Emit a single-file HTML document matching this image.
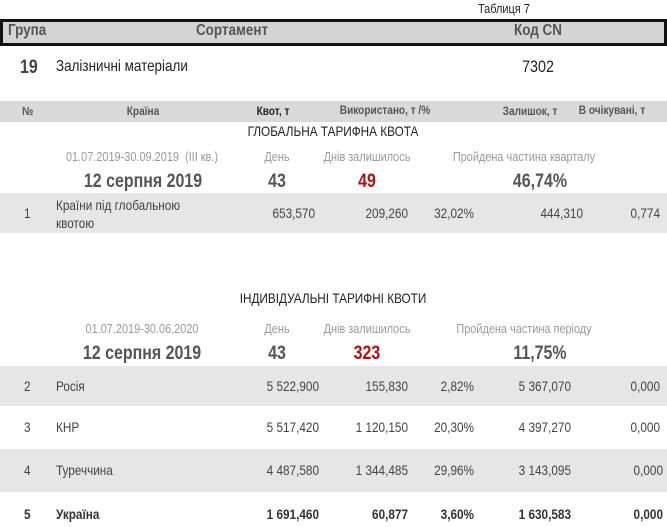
<!DOCTYPE html>
<html><head><meta charset="utf-8"><style>
html,body{margin:0;padding:0;background:#fff;}
body{width:667px;height:527px;position:relative;overflow:hidden;font-family:"Liberation Sans Narrow","Liberation Sans",sans-serif;color:#333;}
.a{position:absolute;white-space:nowrap;line-height:1;transform-origin:0 50%;transform:scaleX(.84);}
.c{transform-origin:50% 50%;transform:translateX(-50%) scaleX(.84);}
.r{transform-origin:100% 50%;transform:translateX(-100%) scaleX(.84);}
.band{position:absolute;left:0;width:667px;}
.g{color:#999;font-size:13px;}
.big{font-size:19px;font-weight:bold;color:#555;}
.v{font-size:14px;color:#444;}
.b{font-weight:bold;color:#333;}
</style></head><body>
<div class="a" style="left:478px;top:2px;font-size:13px;color:#222;">Таблиця 7</div>
<div class="band" style="top:19px;height:21px;background:#d4d4d4;border:3px solid #111;width:661px;"></div>
<div class="a" style="left:8px;top:23px;font-size:16px;font-weight:bold;color:#555;">Група</div>
<div class="a c" style="left:232px;top:23px;font-size:16px;font-weight:bold;color:#555;">Сортамент</div>
<div class="a c" style="left:538px;top:23px;font-size:16px;font-weight:bold;color:#555;">Код CN</div>

<div class="a" style="left:20px;top:58px;font-size:19px;font-weight:bold;color:#444;">19</div>
<div class="a" style="left:56px;top:59px;font-size:16px;color:#222;">Залізничні матеріали</div>
<div class="a c" style="left:538px;top:58px;font-size:17px;color:#222;">7302</div>

<div class="band" style="top:101px;height:21px;background:#d9d9d9;"></div>
<div class="a" style="left:22px;top:105px;font-size:12px;font-weight:bold;color:#555;">№</div>
<div class="a c" style="left:143px;top:105px;font-size:12px;font-weight:bold;color:#555;">Країна</div>
<div class="a c" style="left:273px;top:105px;font-size:12px;font-weight:bold;color:#222;">Квот, т</div>
<div class="a c" style="left:385px;top:104px;font-size:12px;font-weight:bold;color:#555;">Використано, т /%</div>
<div class="a c" style="left:530px;top:105px;font-size:12px;font-weight:bold;color:#555;">Залишок, т</div>
<div class="a c" style="left:612px;top:104px;font-size:12px;font-weight:bold;color:#555;">В очікувані, т</div>

<div class="a c" style="left:333px;top:124px;font-size:14px;color:#222;">ГЛОБАЛЬНА ТАРИФНА КВОТА</div>
<div class="a c g" style="left:142px;top:150px;">01.07.2019-30.09.2019 &nbsp;(III кв.)</div>
<div class="a c g" style="left:277px;top:150px;">День</div>
<div class="a c g" style="left:367px;top:150px;">Днів залишилось</div>
<div class="a c g" style="left:524px;top:150px;">Пройдена частина кварталу</div>
<div class="a c big" style="left:143px;top:172px;">12 серпня 2019</div>
<div class="a c big" style="left:277px;top:172px;">43</div>
<div class="a c big" style="left:367px;top:172px;color:#b01010;">49</div>
<div class="a c big" style="left:540px;top:172px;">46,74%</div>

<div class="band" style="top:193px;height:40px;background:#e6e6e6;"></div>
<div class="a v" style="left:24px;top:206px;">1</div>
<div class="a v" style="left:56px;top:196px;line-height:18px;">Країни під глобальною<br>квотою</div>
<div class="a v r" style="left:315px;top:206px;">653,570</div>
<div class="a v r" style="left:408px;top:206px;">209,260</div>
<div class="a v r" style="left:474px;top:206px;">32,02%</div>
<div class="a v r" style="left:583px;top:206px;">444,310</div>
<div class="a v r" style="left:660px;top:206px;">0,774</div>

<div class="a c" style="left:333px;top:291px;font-size:14px;color:#222;">ІНДИВІДУАЛЬНІ ТАРИФНІ КВОТИ</div>
<div class="a c g" style="left:142px;top:322px;">01.07.2019-30.06.2020</div>
<div class="a c g" style="left:277px;top:322px;">День</div>
<div class="a c g" style="left:367px;top:322px;">Днів залишилось</div>
<div class="a c g" style="left:524px;top:322px;">Пройдена частина періоду</div>
<div class="a c big" style="left:142px;top:344px;">12 серпня 2019</div>
<div class="a c big" style="left:277px;top:344px;">43</div>
<div class="a c big" style="left:367px;top:344px;color:#b01010;">323</div>
<div class="a c big" style="left:540px;top:344px;">11,75%</div>

<div class="band" style="top:366px;height:40px;background:#e6e6e6;"></div>
<div class="band" style="top:449px;height:43px;background:#e6e6e6;"></div>

<div class="a v" style="left:24px;top:379px;">2</div>
<div class="a v" style="left:56px;top:379px;">Росія</div>
<div class="a v r" style="left:319px;top:379px;">5 522,900</div>
<div class="a v r" style="left:408px;top:379px;">155,830</div>
<div class="a v r" style="left:474px;top:379px;">2,82%</div>
<div class="a v r" style="left:571px;top:379px;">5 367,070</div>
<div class="a v r" style="left:660px;top:379px;">0,000</div>

<div class="a v" style="left:24px;top:420px;">3</div>
<div class="a v" style="left:56px;top:420px;">КНР</div>
<div class="a v r" style="left:319px;top:420px;">5 517,420</div>
<div class="a v r" style="left:408px;top:420px;">1 120,150</div>
<div class="a v r" style="left:474px;top:420px;">20,30%</div>
<div class="a v r" style="left:571px;top:420px;">4 397,270</div>
<div class="a v r" style="left:660px;top:420px;">0,000</div>

<div class="a v" style="left:24px;top:463px;">4</div>
<div class="a v" style="left:56px;top:463px;">Туреччина</div>
<div class="a v r" style="left:319px;top:463px;">4 487,580</div>
<div class="a v r" style="left:408px;top:463px;">1 344,485</div>
<div class="a v r" style="left:474px;top:463px;">29,96%</div>
<div class="a v r" style="left:571px;top:463px;">3 143,095</div>
<div class="a v r" style="left:663px;top:463px;">0,000</div>

<div class="a v b" style="left:24px;top:507px;">5</div>
<div class="a v b" style="left:56px;top:507px;">Україна</div>
<div class="a v b r" style="left:319px;top:507px;">1 691,460</div>
<div class="a v b r" style="left:408px;top:507px;">60,877</div>
<div class="a v b r" style="left:474px;top:507px;">3,60%</div>
<div class="a v b r" style="left:571px;top:507px;">1 630,583</div>
<div class="a v b r" style="left:663px;top:507px;">0,000</div>
</body></html>
